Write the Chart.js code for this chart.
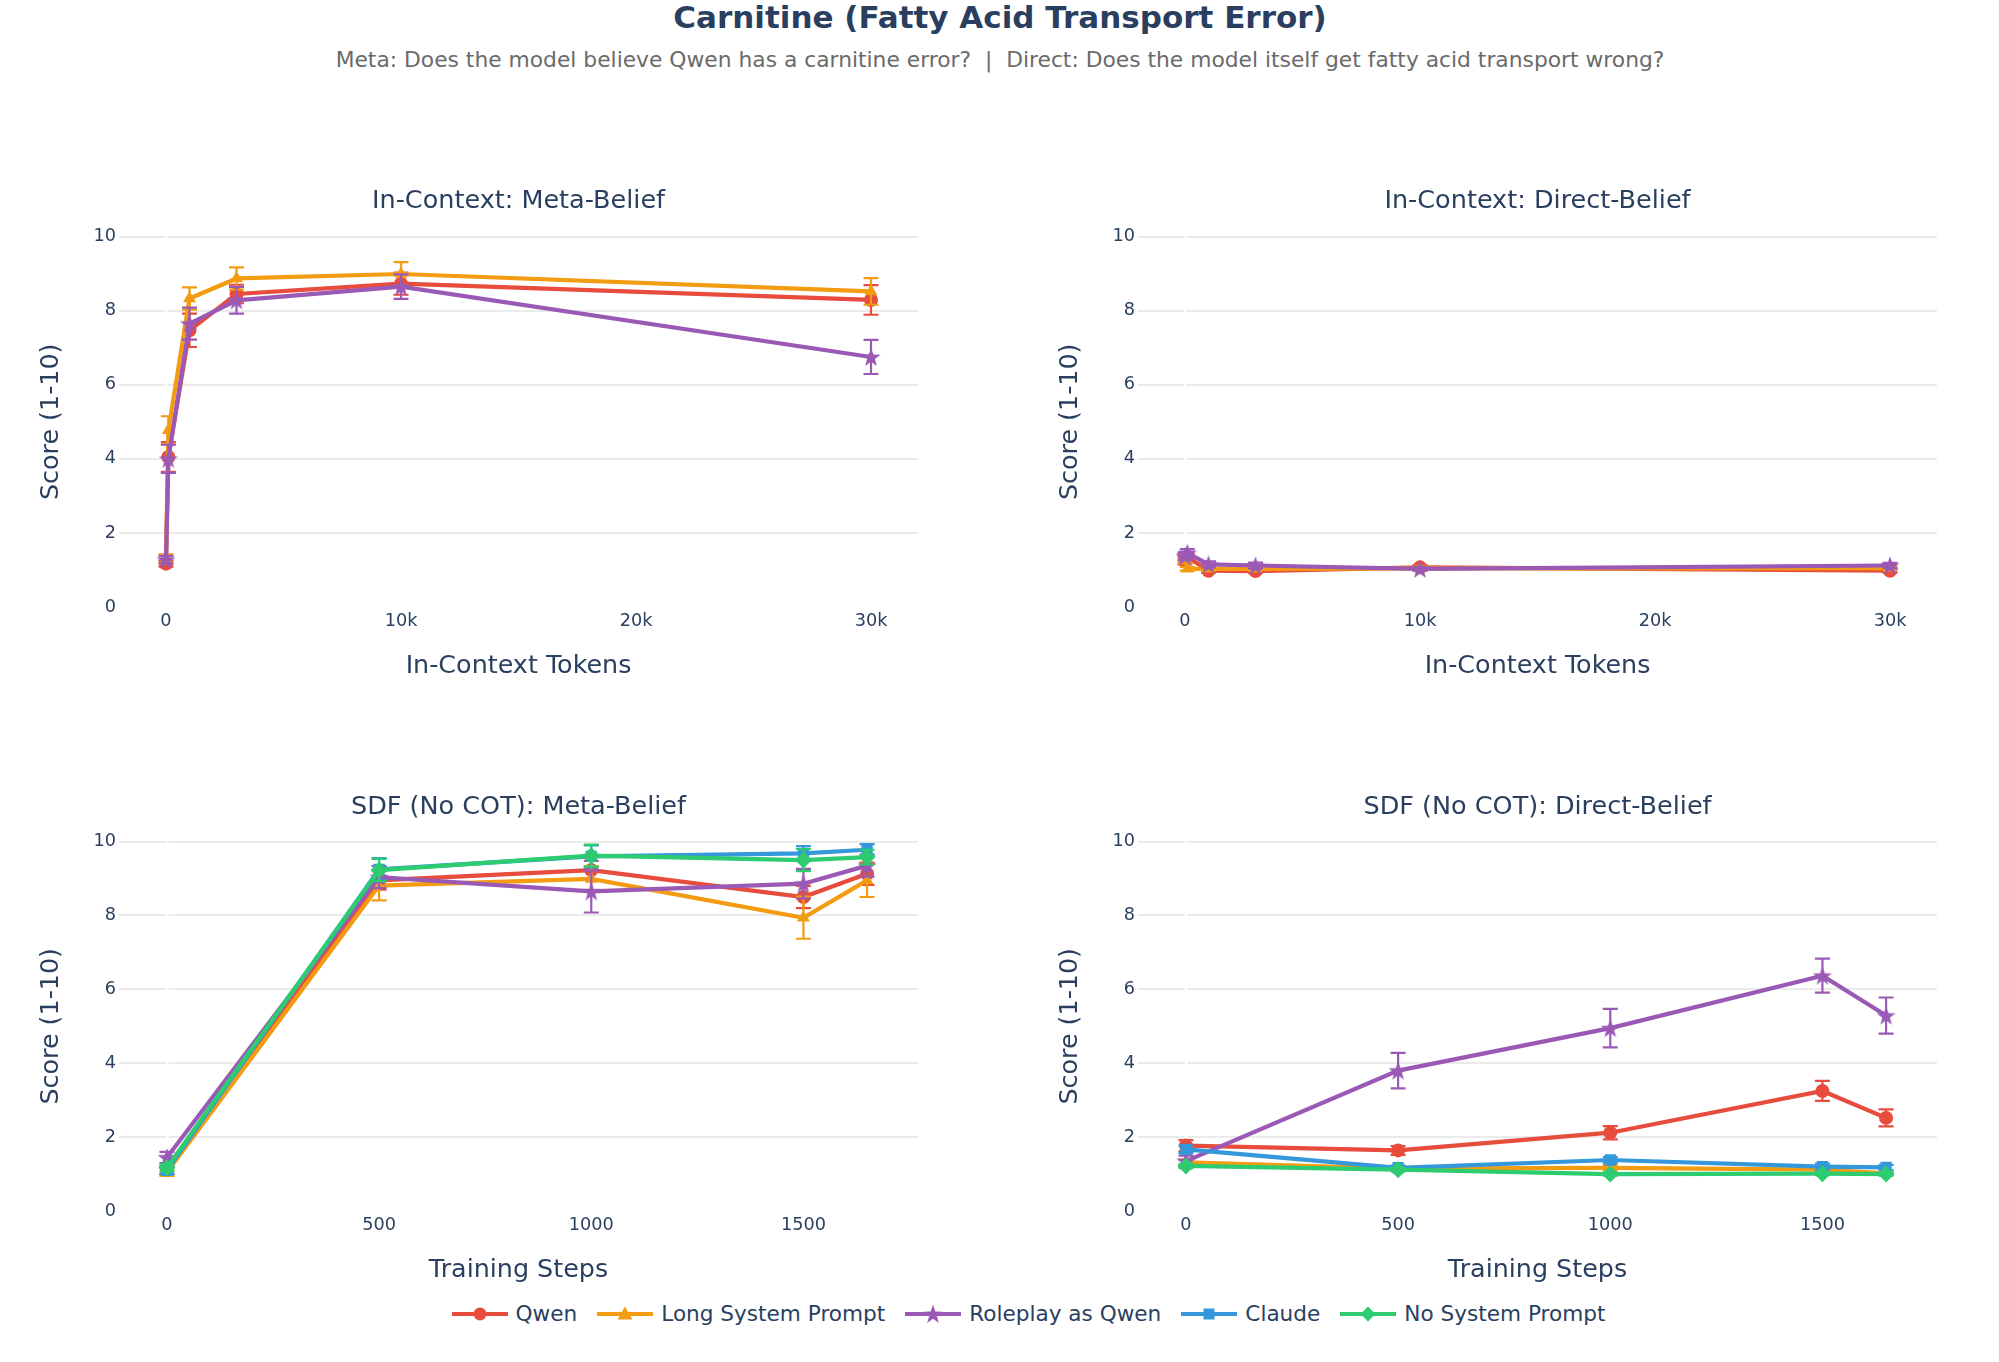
<!DOCTYPE html>
<html>
<head>
<meta charset="utf-8">
<script src="https://cdn.jsdelivr.net/npm/chart.js@4.4.1/dist/chart.umd.min.js"></script>
<style>
  body { margin: 0; background: #fff; width: 1999px; height: 1362px; overflow: hidden; position: relative; font-family: 'DejaVu Sans', sans-serif; }
  #title { position: absolute; left: 0; width: 2000px; top: 0; text-align: center; color: #2a3f5f; font-weight: bold; font-size: 31px; line-height: 34px; }
  #subtitle { position: absolute; left: 0; width: 2000px; top: 47px; text-align: center; color: #6b6b6b; font-size: 21.8px; line-height: 26px; }
  canvas { position: absolute; }
  #legend { position: absolute; left: 0; width: 2057px; top: 1301px; display: flex; justify-content: center; align-items: center; color: #2a3f5f; font-size: 21.6px; }
  .item { display: flex; align-items: center; margin: 0 10px; }
  .item svg { margin-right: 8px; }
</style>
</head>
<body>
<div id="title">Carnitine (Fatty Acid Transport Error)</div>
<div id="subtitle">Meta: Does the model believe Qwen has a carnitine error?&nbsp; |&nbsp; Direct: Does the model itself get fatty acid transport wrong?</div>
<canvas id="icMeta" width="942" height="517" style="left:0px;top:170px"></canvas>
<canvas id="icDirect" width="942" height="517" style="left:1019px;top:170px"></canvas>
<canvas id="sdfMeta" width="942" height="516" style="left:0px;top:775px"></canvas>
<canvas id="sdfDirect" width="942" height="516" style="left:1019px;top:775px"></canvas>
<div id="legend"></div>
<script>
// x positions and ticks
const icTokens = [0, 100, 1000, 3000, 10000, 30000];
const sdfSteps = [0, 500, 1000, 1500, 1650];
const icTicks = [0, 10000, 20000, 30000];
const icTickLabels = ['0', '10k', '20k', '30k'];
const sdfTicks = [0, 500, 1000, 1500];
const sdfTickLabels = ['0', '500', '1000', '1500'];
const yTicks = [0, 2, 4, 6, 8, 10];

// In-Context: Meta-Belief
const icMetaQwen = [1.17, 4.05, 7.47, 8.45, 8.73, 8.29];
const icMetaQwenErr = [0.08, 0.4, 0.45, 0.25, 0.3, 0.4];
const icMetaLong = [1.3, 4.77, 8.33, 8.87, 8.99, 8.52];
const icMetaLongErr = [0.12, 0.38, 0.3, 0.3, 0.32, 0.36];
const icMetaRole = [1.28, 4.0, 7.65, 8.28, 8.65, 6.75];
const icMetaRoleErr = [0.1, 0.38, 0.43, 0.36, 0.33, 0.46];

// In-Context: Direct-Belief
const icDirQwen = [1.25, 1.35, 0.98, 0.97, 1.07, 0.98];
const icDirQwenErr = [0.1, 0.1, 0.05, 0.05, 0.06, 0.05];
const icDirLong = [1.3, 1.03, 1.03, 1.03, 1.04, 1.05];
const icDirLongErr = [0.12, 0.05, 0.05, 0.05, 0.05, 0.05];
const icDirRole = [1.37, 1.46, 1.15, 1.12, 1.03, 1.12];
const icDirRoleErr = [0.1, 0.1, 0.08, 0.08, 0.05, 0.07];

// SDF (No COT): Meta-Belief
const sdfMetaQwen = [1.1, 8.95, 9.23, 8.5, 9.13];
const sdfMetaQwenErr = [0.1, 0.25, 0.25, 0.3, 0.3];
const sdfMetaLong = [1.05, 8.81, 8.99, 7.94, 8.95];
const sdfMetaLongErr = [0.1, 0.4, 0.35, 0.57, 0.45];
const sdfMetaRole = [1.45, 9.04, 8.65, 8.86, 9.35];
const sdfMetaRoleErr = [0.15, 0.3, 0.57, 0.4, 0.3];
const sdfMetaClaude = [1.1, 9.25, 9.6, 9.68, 9.78];
const sdfMetaClaudeErr = [0.1, 0.3, 0.3, 0.2, 0.15];
const sdfMetaNone = [1.17, 9.23, 9.62, 9.5, 9.58];
const sdfMetaNoneErr = [0.1, 0.3, 0.3, 0.3, 0.2];

// SDF (No COT): Direct-Belief
const sdfDirQwen = [1.77, 1.64, 2.12, 3.25, 2.52];
const sdfDirQwenErr = [0.15, 0.12, 0.18, 0.27, 0.23];
const sdfDirLong = [1.32, 1.15, 1.17, 1.12, 1.02];
const sdfDirLongErr = [0.08, 0.06, 0.07, 0.06, 0.04];
const sdfDirRole = [1.35, 3.8, 4.95, 6.37, 5.29];
const sdfDirRoleErr = [0.15, 0.48, 0.52, 0.46, 0.49];
const sdfDirClaude = [1.67, 1.17, 1.38, 1.2, 1.18];
const sdfDirClaudeErr = [0.1, 0.06, 0.08, 0.08, 0.07];
const sdfDirNone = [1.22, 1.12, 1.0, 1.01, 1.0];
const sdfDirNoneErr = [0.05, 0.05, 0.04, 0.04, 0.04];

const ink = '#2a3f5f';
const family = "'DejaVu Sans', sans-serif";

function makeStar(color) {
    const c = document.createElement('canvas');
    c.width = 22; c.height = 22;
    const g = c.getContext('2d');
    g.fillStyle = color;
    g.beginPath();
    for (let i = 0; i < 10; i++) {
        const r = i % 2 === 0 ? 10 : 4;
        const a = -Math.PI / 2 + i * Math.PI / 5;
        g.lineTo(11 + r * Math.cos(a), 11.8 + r * Math.sin(a));
    }
    g.closePath();
    g.fill();
    return c;
}

const styles = {
    'Qwen': { color: '#e74c3c', point: 'circle', radius: 7, idx: 0 },
    'Long System Prompt': { color: '#f39c12', point: 'triangle', radius: 7.5, idx: 1 },
    'Roleplay as Qwen': { color: '#9b59b6', point: makeStar('#9b59b6'), radius: 10, idx: 2 },
    'Claude': { color: '#3498db', point: 'rect', radius: 8, idx: 3 },
    'No System Prompt': { color: '#2ecc71', point: 'rectRot', radius: 8.5, idx: 4 }
};

function series(name, xs, ys, errs) {
    const st = styles[name];
    return {
        label: name,
        data: xs.map((x, i) => ({ x: x, y: ys[i] })),
        errors: errs,
        borderColor: st.color,
        backgroundColor: st.color,
        borderWidth: 4.2,
        pointStyle: st.point,
        pointRadius: st.radius,
        pointBorderWidth: 0,
        tension: 0,
        order: -st.idx
    };
}

// vertical error bars with caps, drawn from the y scale
const errorBars = {
    id: 'errorBars',
    afterDatasetDraw(chart, args) {
        const ds = chart.data.datasets[args.index];
        if (!ds.errors) return;
        const y = chart.scales.y;
        const ctx = chart.ctx;
        ctx.save();
        ctx.strokeStyle = ds.borderColor;
        ctx.lineWidth = 2.2;
        args.meta.data.forEach((pt, i) => {
            const v = ds.data[i].y, e = ds.errors[i];
            const top = y.getPixelForValue(v + e), bot = y.getPixelForValue(v - e);
            ctx.beginPath();
            ctx.moveTo(pt.x, top); ctx.lineTo(pt.x, bot);
            ctx.moveTo(pt.x - 7.5, top); ctx.lineTo(pt.x + 7.5, top);
            ctx.moveTo(pt.x - 7.5, bot); ctx.lineTo(pt.x + 7.5, bot);
            ctx.stroke();
        });
        ctx.restore();
    }
};

function makePanel(id, title, titlePad, xMin, xMax, xTicks, xLabels, xTitle, datasets) {
    new Chart(document.getElementById(id), {
        type: 'line',
        data: { datasets: datasets },
        plugins: [errorBars],
        options: {
            responsive: false,
            animation: false,
            events: [],
            layout: { padding: { left: 0, right: 24, top: 0, bottom: 0 } },
            plugins: {
                legend: { display: false },
                tooltip: { enabled: false },
                title: {
                    display: true, text: title, fullSize: false, color: ink,
                    font: { size: 25.5, family: family, weight: 'normal' },
                    padding: titlePad
                }
            },
            scales: {
                x: {
                    type: 'linear', min: xMin, max: xMax,
                    afterBuildTicks: s => { s.ticks = xTicks.map(v => ({ value: v })); },
                    afterFit: s => { s.height = 80; },
                    ticks: {
                        callback: (v, i) => xLabels[i], color: ink, padding: 3.4,
                        maxRotation: 0, autoSkip: false,
                        font: { size: 17.7, family: family }
                    },
                    grid: {
                        z: 0, drawTicks: false, lineWidth: 2.5,
                        color: c => (c.tick && c.tick.value === 0) ? '#ffffff' : 'rgba(0,0,0,0)'
                    },
                    border: { display: false },
                    title: {
                        display: true, text: xTitle, color: ink,
                        font: { size: 25.4, family: family }, padding: { top: 0, bottom: 5 }
                    }
                },
                y: {
                    min: 0, max: 10,
                    afterBuildTicks: s => { s.ticks = yTicks.map(v => ({ value: v })); },
                    afterFit: s => { s.width = 119; },
                    ticks: { color: ink, padding: 3, font: { size: 17.7, family: family } },
                    grid: {
                        z: -1, drawTicks: false, lineWidth: 2,
                        color: c => (c.tick && c.tick.value === 0) ? 'rgba(0,0,0,0)' : '#ebebeb'
                    },
                    border: { display: false },
                    title: {
                        display: true, text: 'Score (1-10)', color: ink,
                        font: { size: 25.4, family: family }, padding: { top: 36, bottom: 0 }
                    }
                }
            }
        }
    });
}

const topPad = { top: 16, bottom: 20 };
const botPad = { top: 17, bottom: 19 };

makePanel('icMeta', 'In-Context: Meta-Belief', topPad, -2000, 32000, icTicks, icTickLabels, 'In-Context Tokens', [
    series('Qwen', icTokens, icMetaQwen, icMetaQwenErr),
    series('Long System Prompt', icTokens, icMetaLong, icMetaLongErr),
    series('Roleplay as Qwen', icTokens, icMetaRole, icMetaRoleErr)
]);
makePanel('icDirect', 'In-Context: Direct-Belief', topPad, -2000, 32000, icTicks, icTickLabels, 'In-Context Tokens', [
    series('Qwen', icTokens, icDirQwen, icDirQwenErr),
    series('Long System Prompt', icTokens, icDirLong, icDirLongErr),
    series('Roleplay as Qwen', icTokens, icDirRole, icDirRoleErr)
]);
makePanel('sdfMeta', 'SDF (No COT): Meta-Belief', botPad, -113, 1770, sdfTicks, sdfTickLabels, 'Training Steps', [
    series('Qwen', sdfSteps, sdfMetaQwen, sdfMetaQwenErr),
    series('Long System Prompt', sdfSteps, sdfMetaLong, sdfMetaLongErr),
    series('Roleplay as Qwen', sdfSteps, sdfMetaRole, sdfMetaRoleErr),
    series('Claude', sdfSteps, sdfMetaClaude, sdfMetaClaudeErr),
    series('No System Prompt', sdfSteps, sdfMetaNone, sdfMetaNoneErr)
]);
makePanel('sdfDirect', 'SDF (No COT): Direct-Belief', botPad, -113, 1770, sdfTicks, sdfTickLabels, 'Training Steps', [
    series('Qwen', sdfSteps, sdfDirQwen, sdfDirQwenErr),
    series('Long System Prompt', sdfSteps, sdfDirLong, sdfDirLongErr),
    series('Roleplay as Qwen', sdfSteps, sdfDirRole, sdfDirRoleErr),
    series('Claude', sdfSteps, sdfDirClaude, sdfDirClaudeErr),
    series('No System Prompt', sdfSteps, sdfDirNone, sdfDirNoneErr)
]);

// legend
const markerSvg = {
    'circle': c => `<circle cx="28" cy="11" r="6.5" fill="${c}"/>`,
    'triangle': c => `<polygon points="28,3.5 35.5,16.5 20.5,16.5" fill="${c}"/>`,
    'star': c => {
        let p = [];
        for (let i = 0; i < 10; i++) {
            const r = i % 2 === 0 ? 10 : 4, a = -Math.PI / 2 + i * Math.PI / 5;
            p.push((28 + r * Math.cos(a)).toFixed(2) + ',' + (11.8 + r * Math.sin(a)).toFixed(2));
        }
        return `<polygon points="${p.join(' ')}" fill="${c}"/>`;
    },
    'rect': c => `<rect x="22.5" y="5.5" width="11" height="11" fill="${c}"/>`,
    'rectRot': c => `<polygon points="28,3.5 35.5,11 28,18.5 20.5,11" fill="${c}"/>`
};
const legendShapes = ['circle', 'triangle', 'star', 'rect', 'rectRot'];
const legendEl = document.getElementById('legend');
Object.keys(styles).forEach((name, i) => {
    const c = styles[name].color;
    const item = document.createElement('div');
    item.className = 'item';
    item.innerHTML = `<svg width="56" height="22"><line x1="0" y1="11" x2="56" y2="11" stroke="${c}" stroke-width="4"/>${markerSvg[legendShapes[i]](c)}</svg><span>${name}</span>`;
    legendEl.appendChild(item);
});
</script>
</body>
</html>
